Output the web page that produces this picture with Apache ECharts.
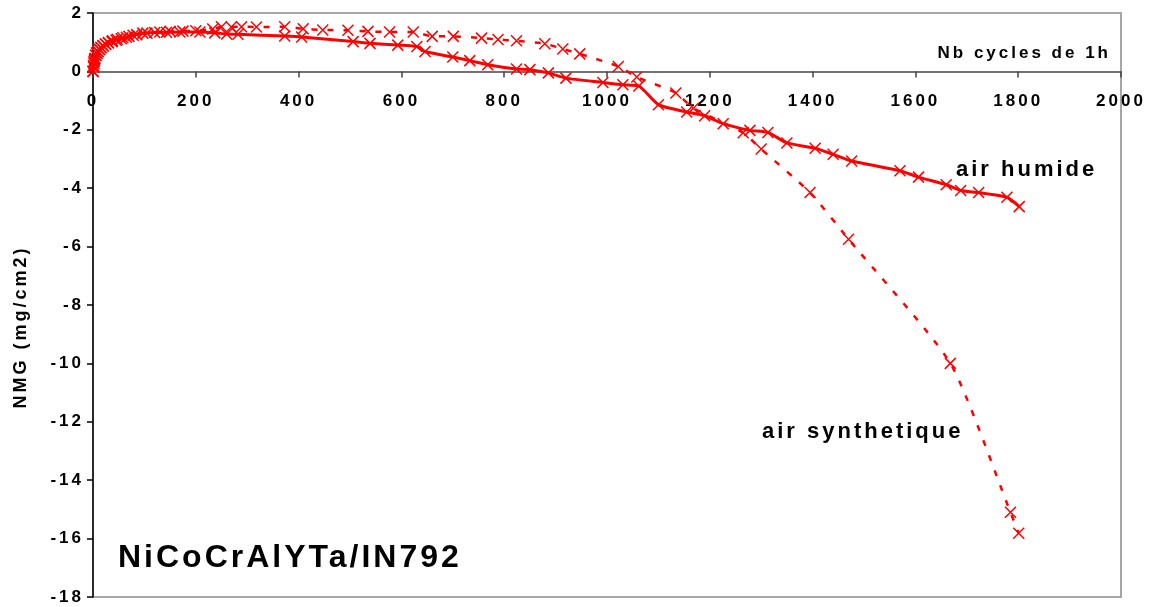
<!DOCTYPE html>
<html>
<head>
<meta charset="utf-8">
<title>NiCoCrAlYTa/IN792 - NMG</title>
<script src="https://cdn.jsdelivr.net/npm/echarts@6/dist/echarts.min.js"></script>
<style>
  html, body { margin: 0; padding: 0; background: #ffffff; }
  #chart { width: 1151px; height: 607px; }
</style>
</head>
<body>
<div id="chart"></div>
<script>
// Cycles (1 h each) and net mass gain (mg/cm2), humid air
const cyclesHumide = [0, 1, 2, 3, 4, 6, 8, 10, 13, 16, 20, 25, 30, 37, 45, 55, 65, 78, 97, 120,
  143, 169, 208, 237, 260, 282, 373, 406, 506, 539, 593, 630, 646, 700, 733, 768, 824, 850, 886, 920,
  992, 1031, 1062, 1100, 1155, 1190, 1226, 1278, 1313, 1350, 1405, 1440, 1476, 1570, 1606, 1660, 1688, 1723, 1778, 1802];
const nmgHumide = [0, 0.15, 0.28, 0.38, 0.45, 0.55, 0.62, 0.68, 0.75, 0.81, 0.87, 0.93, 0.97, 1.02, 1.07, 1.12, 1.17, 1.24, 1.31, 1.33,
  1.34, 1.35, 1.35, 1.32, 1.28, 1.27, 1.21, 1.18, 1.02, 0.96, 0.9, 0.85, 0.68, 0.49, 0.37, 0.23, 0.08, 0.06, -0.05, -0.23,
  -0.38, -0.46, -0.5, -1.14, -1.39, -1.52, -1.79, -2.02, -2.09, -2.45, -2.63, -2.84, -3.07, -3.4, -3.62, -3.88, -4.08, -4.15, -4.31, -4.63];

// Cycles and net mass gain, synthetic air
const cyclesSynth = [0, 1, 2, 3, 5, 7, 9, 12, 15, 19, 24, 30, 38, 47, 58, 70, 85, 105, 130, 150,
  175, 200, 233, 250, 269, 289, 318, 373, 409, 447, 496, 535, 577, 623, 660, 701, 756, 788, 824, 879,
  914, 947, 1022, 1058, 1134, 1168, 1265, 1300, 1395, 1470, 1668, 1785, 1801];
const nmgSynth = [0, 0.2, 0.33, 0.42, 0.55, 0.63, 0.7, 0.76, 0.82, 0.88, 0.94, 0.99, 1.05, 1.1, 1.15, 1.2, 1.26, 1.31, 1.35, 1.37,
  1.38, 1.39, 1.45, 1.53, 1.52, 1.53, 1.52, 1.53, 1.46, 1.42, 1.41, 1.37, 1.35, 1.35, 1.2, 1.2, 1.14, 1.09, 1.05, 0.95,
  0.77, 0.6, 0.17, -0.19, -0.74, -1.26, -2.1, -2.66, -4.15, -5.75, -10.0, -15.1, -15.82];

// Axis settings
const xMin = 0, xMax = 2000, xStep = 200;
const yMin = -18, yMax = 2, yStep = 2;

const xTitle = 'Nb cycles de 1h';
const yTitle = 'NMG (mg/cm2)';
const nameHumide = 'air humide';
const nameSynth = 'air synthetique';
const sampleTitle = 'NiCoCrAlYTa/IN792';

// Letter-spaced lettering for every label drawn on the canvas
const TRACKING = '3px';
const baseFillText = CanvasRenderingContext2D.prototype.fillText;
CanvasRenderingContext2D.prototype.fillText = function () {
  this.letterSpacing = TRACKING;
  return baseFillText.apply(this, arguments);
};

const FONT = '"Liberation Sans", Arial, Helvetica, sans-serif';
const RED = '#ff0000';
const CROSS = 'path://M0,0L10,10M10,0L0,10';

const GRID = { left: 93, right: 30, top: 13, bottom: 10 };
const CHART_H = 607;
const plotH = CHART_H - GRID.top - GRID.bottom;
// Lift the category axis from the bottom edge up to the y = 0 line, labels included
const xAxisLift = -plotH * (0 - yMin) / (yMax - yMin);

const zip = (xs, ys) => xs.map((x, i) => [x, ys[i]]);

const chart = echarts.init(document.getElementById('chart'), null, { renderer: 'canvas' });

chart.setOption({
  animation: false,
  backgroundColor: '#ffffff',
  grid: Object.assign({
    show: true, borderColor: '#a6a6a6', borderWidth: 2, backgroundColor: 'transparent'
  }, GRID),
  xAxis: {
    type: 'value', min: xMin, max: xMax, interval: xStep,
    position: 'bottom', offset: xAxisLift,
    axisLine: { onZero: false, lineStyle: { color: '#444', width: 1.5 } },
    axisTick: { show: true, inside: false, length: 6, lineStyle: { color: '#444', width: 1.5 } },
    axisLabel: { margin: 21, color: '#000', fontFamily: FONT, fontWeight: 'bold', fontSize: 17,
      formatter: v => String(v) },
    splitLine: { show: false }
  },
  yAxis: {
    type: 'value', min: yMin, max: yMax, interval: yStep,
    axisLine: { show: true, lineStyle: { color: '#000', width: 1.5 } },
    axisTick: { show: true, inside: false, length: 6, lineStyle: { color: '#000', width: 1.5 } },
    axisLabel: { margin: 9, color: '#000', fontFamily: FONT, fontWeight: 'bold', fontSize: 17,
      formatter: v => String(v) },
    splitLine: { show: false }
  },
  series: [
    {
      name: nameSynth,
      type: 'line',
      data: zip(cyclesSynth, nmgSynth),
      smooth: 0.2,
      showAllSymbol: true,
      symbol: CROSS,
      symbolSize: 11,
      itemStyle: { color: 'transparent', borderColor: RED, borderWidth: 1.5 },
      lineStyle: { color: RED, width: 2.5, type: [6, 10] },
      z: 3
    },
    {
      name: nameHumide,
      type: 'line',
      data: zip(cyclesHumide, nmgHumide),
      smooth: 0.2,
      showAllSymbol: true,
      symbol: CROSS,
      symbolSize: 11,
      itemStyle: { color: 'transparent', borderColor: RED, borderWidth: 1.5 },
      lineStyle: { color: RED, width: 3 },
      z: 4
    }
  ],
  graphic: [
    {
      type: 'text', x: 1111, y: 53, z: 10,
      style: { text: xTitle, textAlign: 'right', textVerticalAlign: 'middle',
        font: 'bold 17px ' + FONT, fill: '#000' }
    },
    {
      type: 'text', x: 21, y: 327, rotation: Math.PI / 2, z: 10,
      style: { text: yTitle, textAlign: 'center', textVerticalAlign: 'middle',
        font: 'bold 18px ' + FONT, fill: '#000' }
    },
    {
      type: 'text', x: 956, y: 170, z: 10,
      style: { text: nameHumide, textAlign: 'left', textVerticalAlign: 'middle',
        font: 'bold 22px ' + FONT, fill: '#000' }
    },
    {
      type: 'text', x: 762, y: 432, z: 10,
      style: { text: nameSynth, textAlign: 'left', textVerticalAlign: 'middle',
        font: 'bold 22px ' + FONT, fill: '#000' }
    },
    {
      type: 'text', x: 118, y: 558, z: 10,
      style: { text: sampleTitle, textAlign: 'left', textVerticalAlign: 'middle',
        font: 'bold 32px ' + FONT, fill: '#000' }
    }
  ]
});
</script>
</body>
</html>
